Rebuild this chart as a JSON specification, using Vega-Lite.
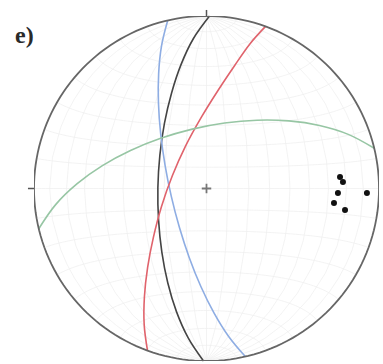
{
  "$schema": "https://vega.github.io/schema/vega-lite/v6.json",
  "width": 345,
  "height": 345,
  "autosize": "none",
  "padding": {"left": 34, "top": 16, "right": 4, "bottom": 3},
  "background": "white",
  "config": {"view": {"stroke": null}},
  "title": {
    "text": "e)",
    "anchor": "start",
    "frame": "group",
    "orient": "top",
    "offset": -25,
    "baseline": "alphabetic",
    "dx": -19,
    "dy": 33,
    "font": "Liberation Serif",
    "fontWeight": "bold",
    "fontSize": 24,
    "color": "#2a2a2a"
  },
  "datasets": {
    "planes": [
      {"c": "black", "i": 0, "x": 0.0175, "y": 1.0},
      {"c": "black", "i": 1, "x": -0.0757, "y": 0.8694},
      {"c": "black", "i": 2, "x": -0.1472, "y": 0.7194},
      {"c": "black", "i": 3, "x": -0.2024, "y": 0.554},
      {"c": "black", "i": 4, "x": -0.2439, "y": 0.3773},
      {"c": "black", "i": 5, "x": -0.2703, "y": 0.1931},
      {"c": "black", "i": 6, "x": -0.2819, "y": 0.0049},
      {"c": "black", "i": 7, "x": -0.2779, "y": -0.1835},
      {"c": "black", "i": 8, "x": -0.2589, "y": -0.3685},
      {"c": "black", "i": 9, "x": -0.2246, "y": -0.5464},
      {"c": "black", "i": 10, "x": -0.1742, "y": -0.7138},
      {"c": "black", "i": 11, "x": -0.1061, "y": -0.8662},
      {"c": "black", "i": 12, "x": -0.0175, "y": -1.0},

      {"c": "blue", "i": 0, "x": -0.225, "y": 0.9744},
      {"c": "blue", "i": 1, "x": -0.2607, "y": 0.8274},
      {"c": "blue", "i": 2, "x": -0.2774, "y": 0.6671},
      {"c": "blue", "i": 3, "x": -0.2785, "y": 0.4962},
      {"c": "blue", "i": 4, "x": -0.2657, "y": 0.3182},
      {"c": "blue", "i": 5, "x": -0.2404, "y": 0.136},
      {"c": "blue", "i": 6, "x": -0.2037, "y": -0.047},
      {"c": "blue", "i": 7, "x": -0.1564, "y": -0.2276},
      {"c": "blue", "i": 8, "x": -0.0993, "y": -0.4024},
      {"c": "blue", "i": 9, "x": -0.0327, "y": -0.568},
      {"c": "blue", "i": 10, "x": 0.0432, "y": -0.7211},
      {"c": "blue", "i": 11, "x": 0.1285, "y": -0.858},
      {"c": "blue", "i": 12, "x": 0.225, "y": -0.9744},

      {"c": "red", "i": 0, "x": 0.342, "y": 0.9397},
      {"c": "red", "i": 1, "x": 0.2503, "y": 0.8366},
      {"c": "red", "i": 2, "x": 0.1625, "y": 0.7119},
      {"c": "red", "i": 3, "x": 0.0675, "y": 0.5697},
      {"c": "red", "i": 4, "x": -0.0296, "y": 0.4136},
      {"c": "red", "i": 5, "x": -0.121, "y": 0.247},
      {"c": "red", "i": 6, "x": -0.1981, "y": 0.0736},
      {"c": "red", "i": 7, "x": -0.2608, "y": -0.1038},
      {"c": "red", "i": 8, "x": -0.3076, "y": -0.2818},
      {"c": "red", "i": 9, "x": -0.3413, "y": -0.4573},
      {"c": "red", "i": 10, "x": -0.3599, "y": -0.6273},
      {"c": "red", "i": 11, "x": -0.3613, "y": -0.789},
      {"c": "red", "i": 12, "x": -0.342, "y": -0.9397},

      {"c": "green", "i": 0, "x": 0.9724, "y": 0.2334},
      {"c": "green", "i": 1, "x": 0.8217, "y": 0.3138},
      {"c": "green", "i": 2, "x": 0.6552, "y": 0.3652},
      {"c": "green", "i": 3, "x": 0.4776, "y": 0.3918},
      {"c": "green", "i": 4, "x": 0.2929, "y": 0.396},
      {"c": "green", "i": 5, "x": 0.1047, "y": 0.3798},
      {"c": "green", "i": 6, "x": -0.0826, "y": 0.3443},
      {"c": "green", "i": 7, "x": -0.2657, "y": 0.2908},
      {"c": "green", "i": 8, "x": -0.4407, "y": 0.22},
      {"c": "green", "i": 9, "x": -0.6034, "y": 0.1324},
      {"c": "green", "i": 10, "x": -0.7496, "y": 0.028},
      {"c": "green", "i": 11, "x": -0.8745, "y": -0.0934},
      {"c": "green", "i": 12, "x": -0.9724, "y": -0.2334}
    ],
    "poles": [
      {"x": 0.774, "y": 0.067},
      {"x": 0.791, "y": 0.038},
      {"x": 0.762, "y": -0.026},
      {"x": 0.93, "y": -0.026},
      {"x": 0.739, "y": -0.084},
      {"x": 0.803, "y": -0.125}
    ],
    "centre": [{"x": 0, "y": 0}],
    "ticks": [
      {"x": -1.035, "x2": -1.0, "y": 0, "y2": 0},
      {"x": 0, "x2": 0, "y": 1.0, "y2": 1.035}
    ]
  },
  "layer": [
    {
      "data": {"graticule": {"step": [10, 10]}},
      "projection": {"type": "azimuthalEqualArea", "clipAngle": 90, "scale": 121.98, "translate": [172.5, 172.5]},
      "mark": {"type": "geoshape", "filled": false, "stroke": "#eeeeee", "strokeWidth": 0.7}
    },
    {
      "data": {"name": "planes"},
      "mark": {"type": "line", "interpolate": "cardinal", "strokeWidth": 1.6, "clip": false},
      "encoding": {
        "x": {"field": "x", "type": "quantitative", "scale": {"domain": [-1, 1], "nice": false, "zero": false}, "axis": null},
        "y": {"field": "y", "type": "quantitative", "scale": {"domain": [-1, 1], "nice": false, "zero": false}, "axis": null},
        "order": {"field": "i", "type": "quantitative"},
        "color": {
          "field": "c",
          "type": "nominal",
          "scale": {"domain": ["black", "blue", "red", "green"], "range": ["#444444", "#8eade3", "#e0636c", "#97c6a4"]},
          "legend": null
        }
      }
    },
    {
      "data": {"sphere": true},
      "projection": {"type": "azimuthalEqualArea", "clipAngle": 90, "scale": 121.98, "translate": [172.5, 172.5]},
      "mark": {"type": "geoshape", "filled": false, "stroke": "#666666", "strokeWidth": 1.8}
    },
    {
      "data": {"name": "ticks"},
      "mark": {"type": "rule", "stroke": "#555555", "strokeWidth": 1.5},
      "encoding": {
        "x": {"field": "x", "type": "quantitative"},
        "x2": {"field": "x2"},
        "y": {"field": "y", "type": "quantitative"},
        "y2": {"field": "y2"}
      }
    },
    {
      "data": {"name": "centre"},
      "mark": {"type": "point", "shape": "M-1,0H1M0,-1V1", "filled": false, "stroke": "#444444", "strokeWidth": 1.8, "size": 90},
      "encoding": {
        "x": {"field": "x", "type": "quantitative"},
        "y": {"field": "y", "type": "quantitative"}
      }
    },
    {
      "data": {"name": "poles"},
      "mark": {"type": "point", "filled": true, "color": "#111111", "opacity": 1, "size": 36},
      "encoding": {
        "x": {"field": "x", "type": "quantitative"},
        "y": {"field": "y", "type": "quantitative"}
      }
    }
  ]
}
